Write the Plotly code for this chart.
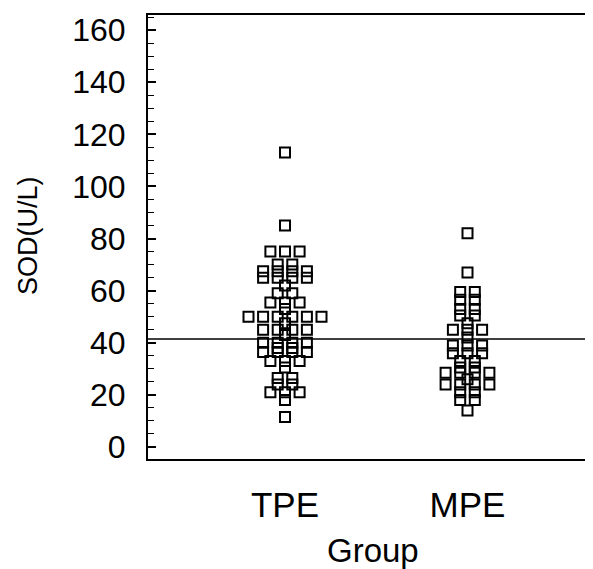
import plotly.graph_objects as go
from collections import defaultdict

# ---- data ----
groups = ["TPE", "MPE"]
tpe_values = [113, 85,
              75, 75, 75,
              70, 70,
              67.5, 67.5, 67.5, 67.5,
              65, 65, 65, 65,
              62,
              59, 59,
              55.5, 55.5, 55.5,
              53,
              50, 50, 50, 50, 50, 50,
              47.5,
              45, 45, 45, 45,
              43,
              40, 40, 40, 40,
              38, 38,
              36.5, 36.5, 36.5, 36.5,
              33, 33, 33,
              30.5,
              26.5, 26.5,
              24, 24,
              21, 21, 21,
              18,
              11.5]
mpe_values = [82, 67,
              59.5, 59.5,
              56.5, 56.5,
              53, 53,
              50.5, 50.5,
              47.5,
              45, 45, 45,
              42,
              39, 39, 39,
              36, 36, 36,
              33, 33,
              30.5, 30.5,
              28.5, 28.5, 28.5, 28.5,
              26,
              24, 24, 24, 24,
              21, 21,
              18, 18,
              14]
ref_line_value = 41.5
y_tick_values = [0, 20, 40, 60, 80, 100, 120, 140, 160]
y_title = "SOD(U/L)"
x_title = "Group"


def dot_offsets(values, step):
    """Spread equal values side by side, centred on the group position."""
    buckets = defaultdict(list)
    for i, v in enumerate(values):
        buckets[v].append(i)
    off = [0.0] * len(values)
    for v, idxs in buckets.items():
        n = len(idxs)
        for k, i in enumerate(idxs):
            off[i] = (k - (n - 1) / 2) * step
    return off


STEP = 0.08
fig = go.Figure()
for gi, (name, vals) in enumerate(zip(groups, [tpe_values, mpe_values])):
    offs = dot_offsets(vals, STEP)
    fig.add_trace(go.Scatter(
        x=[gi + 1 + o for o in offs], y=vals, mode="markers", name=name,
        marker=dict(symbol="square-open", size=10, color="black",
                    line=dict(width=2, color="black")),
        showlegend=False, hoverinfo="y"))

fig.add_shape(type="line", xref="x domain", yref="y",
              x0=0, x1=0.99, y0=ref_line_value, y1=ref_line_value,
              line=dict(color="black", width=1.5))

FONT = "Liberation Sans, Arial, sans-serif"
fig.update_layout(
    width=585, height=561,
    margin=dict(l=140, r=0, t=7, b=110),
    plot_bgcolor="white", paper_bgcolor="white",
    font=dict(family=FONT, color="black"),
    xaxis=dict(range=[0.2493, 2.6877], tickvals=[1, 2], ticktext=groups,
               showgrid=False, zeroline=False, ticks="",
               showline=True, linecolor="black", linewidth=2, mirror=True,
               tickfont=dict(size=35, family=FONT, color="black"),
               ticklabelstandoff=14),
    yaxis=dict(range=[-4.6, 165.8], tickvals=y_tick_values,
               showgrid=False, zeroline=False,
               ticks="inside", ticklen=8, tickwidth=1.5, tickcolor="black",
               minor=dict(dtick=5, ticks="inside", ticklen=6, tickwidth=1.2,
                          tickcolor="black"),
               showline=True, linecolor="black", linewidth=2,
               tickfont=dict(size=32, family=FONT, color="black"),
               ticklabelstandoff=14),
    annotations=[
        dict(text=y_title, xref="paper", yref="paper", x=-0.2697, y=0.5045,
             textangle=-90, showarrow=False, xanchor="center", yanchor="middle",
             font=dict(size=27, family=FONT, color="black")),
        dict(text=x_title, xref="paper", yref="paper", x=0.5056, y=-0.205,
             showarrow=False, xanchor="center", yanchor="middle",
             font=dict(size=33, family=FONT, color="black")),
    ],
)

fig.write_html("out.html")
